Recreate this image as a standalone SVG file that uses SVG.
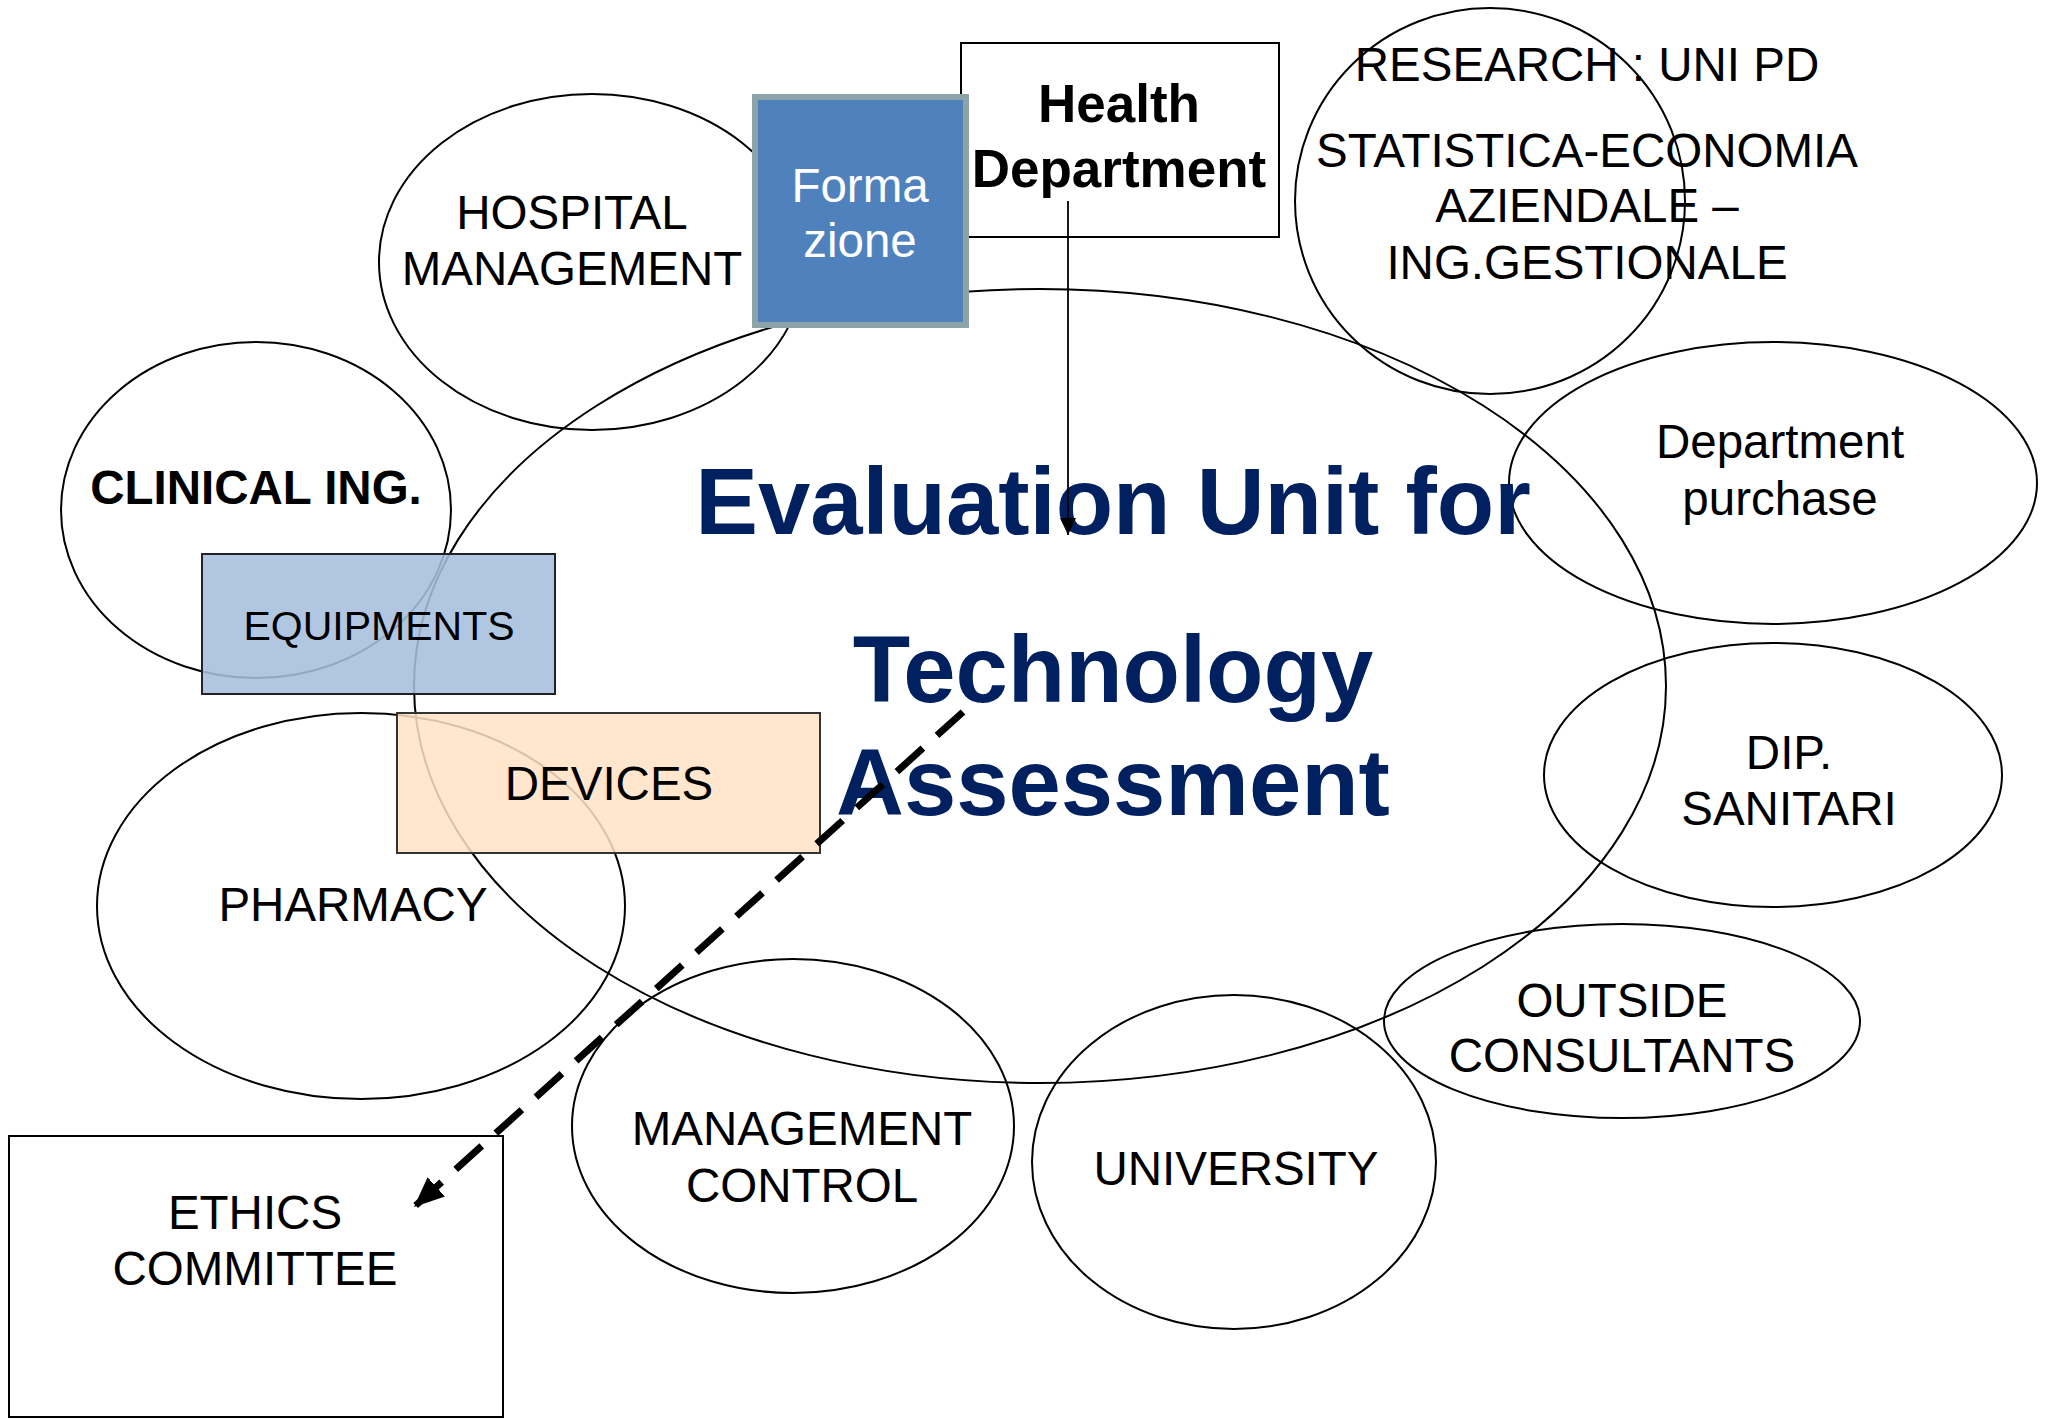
<svg xmlns="http://www.w3.org/2000/svg" width="2048" height="1419" viewBox="0 0 2048 1419">
<style>
.el{fill:none;stroke:#000;stroke-width:2}
.t{font-family:"Liberation Sans",Arial,sans-serif;font-size:47.5px;fill:#000;text-anchor:middle}
.b{font-weight:bold}
.title{font-family:"Liberation Sans",Arial,sans-serif;font-size:94px;font-weight:bold;fill:#002060;text-anchor:middle}
</style>
<defs>
<marker id="ah" markerUnits="userSpaceOnUse" markerWidth="32" markerHeight="26" refX="30" refY="13" orient="auto">
<path d="M0,0 L30,13 L0,26 Z" fill="#000"/>
</marker>
<marker id="ah2" markerUnits="userSpaceOnUse" markerWidth="18" markerHeight="16" refX="17" refY="8" orient="auto">
<path d="M0,0 L17,8 L0,16 Z" fill="#000"/>
</marker>
</defs>
<rect width="2048" height="1419" fill="#fff"/>

<g id="central-unit">
<ellipse class="el" cx="1040" cy="686" rx="626" ry="397"/>
</g>
<g id="hospital-management">
<ellipse class="el" cx="592" cy="262" rx="213" ry="168"/>
<text class="t" x="572" y="229">HOSPITAL</text>
<text class="t" x="572" y="285">MANAGEMENT</text>
</g>
<g id="clinical-ing">
<ellipse class="el" cx="256" cy="510" rx="195" ry="168"/>
<text class="t b" x="256" y="504">CLINICAL ING.</text>
</g>
<g id="pharmacy">
<ellipse class="el" cx="361" cy="906" rx="264" ry="193"/>
<text class="t" x="353" y="921">PHARMACY</text>
</g>
<g id="management-control">
<ellipse class="el" cx="793" cy="1126" rx="221" ry="167"/>
<text class="t" x="802" y="1145">MANAGEMENT</text>
<text class="t" x="802" y="1202">CONTROL</text>
</g>
<g id="university">
<ellipse class="el" cx="1234" cy="1162" rx="202" ry="167"/>
<text class="t" x="1236" y="1185">UNIVERSITY</text>
</g>
<g id="outside-consultants">
<ellipse class="el" cx="1622" cy="1021" rx="238" ry="97"/>
<text class="t" x="1622" y="1017">OUTSIDE</text>
<text class="t" x="1622" y="1072">CONSULTANTS</text>
</g>
<g id="dip-sanitari">
<ellipse class="el" cx="1773" cy="775" rx="229" ry="132"/>
<text class="t" x="1789" y="769">DIP.</text>
<text class="t" x="1789" y="825">SANITARI</text>
</g>
<g id="department-purchase">
<ellipse class="el" cx="1773" cy="483" rx="264" ry="141"/>
<text class="t" x="1780" y="458">Department</text>
<text class="t" x="1780" y="515">purchase</text>
</g>
<g id="research">
<ellipse class="el" cx="1490" cy="201" rx="195" ry="193"/>
<text class="t" x="1587" y="81">RESEARCH : UNI PD</text>
<text class="t" x="1587" y="167">STATISTICA-ECONOMIA</text>
<text class="t" x="1587" y="222">AZIENDALE –</text>
<text class="t" x="1587" y="279">ING.GESTIONALE</text>
</g>
<g id="equipments">
<rect x="202" y="554" width="353" height="140" fill="#A6BFDD" fill-opacity="0.88" stroke="#222" stroke-width="2"/>
<text class="t" x="379" y="640" style="font-size:41px">EQUIPMENTS</text>
</g>
<g id="devices">
<rect x="397" y="713" width="423" height="140" fill="#FFE2C4" fill-opacity="0.85" stroke="#333" stroke-width="2"/>
<text class="t" x="609" y="800">DEVICES</text>
</g>
<g id="health-department">
<rect x="961" y="43" width="318" height="194" fill="#fff" stroke="#000" stroke-width="2"/>
<text class="t b" x="1119" y="122" style="font-size:53px">Health</text>
<text class="t b" x="1119" y="187" style="font-size:53px">Department</text>
</g>
<g id="formazione">
<rect x="755" y="97" width="211" height="228" fill="#4F81BD" stroke="#8CA3A9" stroke-width="6"/>
<text class="t" x="860" y="202" style="fill:#fff">Forma</text>
<text class="t" x="860" y="257" style="fill:#fff">zione</text>
</g>
<g id="ethics-committee">
<rect x="9" y="1136" width="494" height="281" fill="#fff" stroke="#000" stroke-width="2"/>
<text class="t" x="255" y="1229">ETHICS</text>
<text class="t" x="255" y="1285">COMMITTEE</text>
</g>
<g id="title">
<text class="title" x="1113" y="534">Evaluation Unit for</text>
<text class="title" x="1113" y="702">Technology</text>
<text class="title" x="1113" y="815">Assessment</text>
</g>
<g id="connectors">
<line x1="1068" y1="201" x2="1068" y2="535" stroke="#000" stroke-width="1.8" marker-end="url(#ah2)"/>
<line x1="963" y1="712" x2="414" y2="1207" stroke="#000" stroke-width="7" stroke-dasharray="35,19" marker-end="url(#ah)"/>
</g>
</svg>
